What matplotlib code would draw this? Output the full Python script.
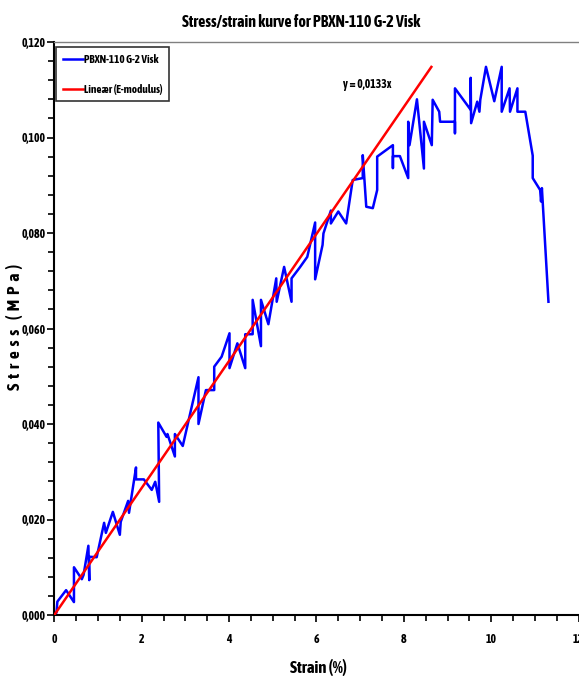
import matplotlib
matplotlib.use("Agg")
import matplotlib.pyplot as plt
from matplotlib.ticker import MultipleLocator, FuncFormatter
from matplotlib import font_manager


def _weight(w):
    if isinstance(w, int):
        return w
    return {'bold': 700, 'semibold': 600, 'demibold': 600, 'heavy': 800,
            'black': 900, 'extra bold': 800}.get(str(w).lower(), 400)


entries = font_manager.fontManager.ttflist
bold_narrow = sorted({f.name for f in entries
                      if ('Narrow' in f.name or 'Condensed' in f.name) and _weight(f.weight) >= 600})
pref = [n for n in bold_narrow if 'Liberation' in n] + [n for n in bold_narrow if 'Liberation' not in n]
if pref:
    fam = [pref[0], 'Liberation Sans', 'DejaVu Sans']
else:
    fam = ['Liberation Sans', 'DejaVu Sans']

plt.rcParams['font.family'] = fam
plt.rcParams['font.weight'] = 'bold'

strain = [0.00, 0.05, 0.07, 0.27, 0.45, 0.45, 0.63, 0.67, 0.78, 0.80, 0.80, 0.97,
          1.14, 1.18, 1.34, 1.50, 1.52, 1.69, 1.71, 1.87, 1.87, 2.05, 2.23, 2.31,
          2.40, 2.38, 2.57, 2.59, 2.76, 2.76, 2.94, 3.30, 3.30, 3.47, 3.66, 3.66,
          3.83, 4.01, 4.01, 4.19, 4.37, 4.37, 4.54, 4.54, 4.73, 4.73, 4.90, 5.08,
          5.09, 5.26, 5.43, 5.43, 5.62, 5.79, 5.97, 5.97, 6.14, 6.16, 6.33, 6.33,
          6.50, 6.68, 6.83, 7.06, 7.06, 7.14, 7.29, 7.39, 7.39, 7.75, 7.75, 7.75,
          7.91, 8.10, 8.10, 8.13, 8.30, 8.46, 8.46, 8.64, 8.66, 8.81, 8.83, 9.17,
          9.17, 9.17, 9.53, 9.53, 9.54, 9.68, 9.73, 9.75, 9.88, 10.07, 10.24, 10.24,
          10.42, 10.43, 10.60, 10.60, 10.78, 10.95, 10.95, 11.12, 11.14, 11.16, 11.31]
stress = [0.0000, 0.0005, 0.0028, 0.0052, 0.0027, 0.0100, 0.0075, 0.0084, 0.0145, 0.0073, 0.0122, 0.0121,
          0.0193, 0.0172, 0.0216, 0.0168, 0.0195, 0.0239, 0.0214, 0.0309, 0.0284, 0.0284, 0.0262, 0.0279,
          0.0237, 0.0403, 0.0373, 0.0379, 0.0332, 0.0379, 0.0354, 0.0498, 0.0400, 0.0471, 0.0471, 0.0520,
          0.0541, 0.0590, 0.0517, 0.0569, 0.0517, 0.0588, 0.0588, 0.0660, 0.0563, 0.0660, 0.0609, 0.0705,
          0.0656, 0.0729, 0.0656, 0.0705, 0.0728, 0.0750, 0.0822, 0.0703, 0.0775, 0.0799, 0.0847, 0.0820,
          0.0845, 0.0820, 0.0911, 0.0915, 0.0963, 0.0855, 0.0852, 0.0890, 0.0960, 0.0984, 0.0936, 0.0961,
          0.0961, 0.0915, 0.1033, 0.0984, 0.1080, 0.0935, 0.1033, 0.0984, 0.1079, 0.1054, 0.1033, 0.1033,
          0.1009, 0.1103, 0.1058, 0.1125, 0.1030, 0.1075, 0.1054, 0.1079, 0.1148, 0.1076, 0.1148, 0.1054,
          0.1103, 0.1054, 0.1103, 0.1054, 0.1054, 0.0962, 0.0915, 0.0890, 0.0866, 0.0894, 0.0656]

slope = 0.0133
fit_x = [0.0, 8.63]
fit_y = [slope * v for v in fit_x]

xticks = [0, 2, 4, 6, 8, 10, 12]
yticks = [0.0, 0.02, 0.04, 0.06, 0.08, 0.10, 0.12]

fig = plt.figure(figsize=(5.79, 6.82), dpi=100)
ax = fig.add_axes([54.3/579, 1-615/682, (578.6-54.3)/579, (615-42)/682])

ax.plot(strain, stress, color='#0000ff', lw=1.8, label='PBXN-110 G-2 Visk', zorder=2)
ax.plot(fit_x, fit_y, color='#ff0000', lw=1.8, label='Lineær (E-modulus)', zorder=3)

ax.set_xlim(0, 12)
ax.set_ylim(0, 0.12)
ax.set_xticks(xticks)
ax.set_yticks(yticks)
ax.xaxis.set_minor_locator(MultipleLocator(0.5))
ax.yaxis.set_minor_locator(MultipleLocator(0.004))
ax.yaxis.set_major_formatter(FuncFormatter(lambda v, p: f"{v:.3f}".replace('.', ',')))
ax.xaxis.set_major_formatter(FuncFormatter(lambda v, p: f"{v:g}"))

ax.tick_params(axis='both', which='both', direction='out', width=1.2, labelsize=8.5)
ax.tick_params(axis='both', which='major', length=5)
ax.tick_params(axis='both', which='minor', length=4)
ax.tick_params(axis='x', pad=8)
ax.tick_params(axis='y', pad=1.5)
for lab in ax.get_xticklabels() + ax.get_yticklabels():
    lab.set_fontweight('bold')

ax.spines['left'].set_linewidth(1.5)
ax.spines['bottom'].set_linewidth(1.5)
ax.spines['top'].set_linewidth(1.0)
ax.spines['top'].set_color('#808080')
ax.spines['right'].set_visible(False)

ax.text(7.16, 0.111, 'y = 0,0133x', fontsize=8.5, fontweight='bold', ha='center', va='center')

leg = ax.legend(loc='upper left', bbox_to_anchor=(0.003, 0.991), fontsize=8,
                handlelength=1.8, handletextpad=0.15, borderpad=0.6, labelspacing=1.7,
                frameon=True, fancybox=False, borderaxespad=0)
leg.get_frame().set_edgecolor('black')
leg.get_frame().set_linewidth(1.2)
for t in leg.get_texts():
    t.set_fontweight('bold')

fig.text(301/579, 1-22/682, 'Stress/strain kurve for PBXN-110 G-2 Visk',
         ha='center', va='center', fontsize=11.5, fontweight='bold')
fig.text(318/579, 1-667/682, 'Strain (%)', ha='center', va='center', fontsize=12, fontweight='bold')
fig.text(15/579, 1-327/682, 'S  t  r  e  s  s    (  M  P  a  )', ha='center', va='center',
         rotation=90, fontsize=12.5, fontweight='bold')

fig.savefig('out.png', dpi=100)
